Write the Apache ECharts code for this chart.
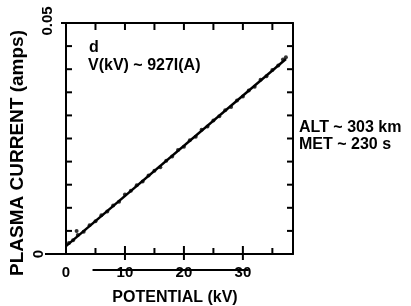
<!DOCTYPE html>
<html>
<head>
<meta charset="utf-8">
<script src="https://cdn.jsdelivr.net/npm/echarts@6/dist/echarts.min.js"></script>
<style>
  html, body { margin: 0; padding: 0; background: #fff; }
  #main { width: 411px; height: 306px; }
</style>
</head>
<body>
<div id="main"></div>
<script>
// measured points: potential (kV) vs plasma current (A)
var potential = [0.5, 1.2, 1.8, 2.0, 3.0, 4.0, 5.0, 6.0, 7.0, 8.0, 9.0, 10.0, 11.0, 12.0,
  13.0, 14.0, 15.0, 16.0, 17.0, 18.0, 19.0, 20.0, 21.0, 22.0, 23.0, 24.0, 25.0, 26.0,
  27.0, 28.0, 29.0, 30.0, 31.0, 32.0, 33.0, 34.0, 35.0, 36.0, 36.8, 37.3];
var current = [0.0024, 0.0030, 0.0050, 0.0041, 0.0048, 0.0062, 0.0071, 0.0084, 0.0092, 0.0105,
  0.0113, 0.0129, 0.0137, 0.0149, 0.0157, 0.0170, 0.0180, 0.0188, 0.0202, 0.0211,
  0.0225, 0.0232, 0.0246, 0.0254, 0.0269, 0.0276, 0.0289, 0.0298, 0.0311, 0.0318,
  0.0332, 0.0341, 0.0354, 0.0362, 0.0377, 0.0385, 0.0398, 0.0408, 0.0421, 0.0426];
// fitted line end points
var fitV = [0, 37.3];
var fitI = [0.0017, 0.0422];
var xTicks = [0, 10, 20, 30];
var yTicks = [0, 0.05];
var xMinor = [0, 5, 10, 15, 20, 25, 30, 35];
var yMinor = [0.005, 0.01, 0.015, 0.02, 0.025, 0.03, 0.035, 0.04, 0.045];

var font = 'Liberation Sans';
var chart = echarts.init(document.getElementById('main'));

var pts = potential.map(function (v, i) { return [v, current[i]]; });
var fit = fitV.map(function (v, i) { return [v, fitI[i]]; });

function frame(pos, isX) {
  return {
    type: 'value', position: pos,
    min: 0, max: isX ? 38.5 : 0.05,
    splitLine: { show: false },
    axisLine: { show: true, onZero: false, lineStyle: { color: '#000', width: 2 } },
    axisTick: { show: false },
    axisLabel: { show: false }
  };
}

chart.setOption({
  animation: false,
  backgroundColor: '#fff',
  grid: { left: 66, right: 118, top: 23, bottom: 52 },
  xAxis: [frame('bottom', true), frame('top', true)],
  yAxis: [frame('left', false), frame('right', false)],
  series: [
    {
      type: 'line', data: fit, xAxisIndex: 0, yAxisIndex: 0,
      symbol: 'none', lineStyle: { color: '#000', width: 2.5 }
    },
    {
      type: 'scatter', data: pts, xAxisIndex: 0, yAxisIndex: 0,
      symbol: 'circle', symbolSize: 4, itemStyle: { color: '#000' }
    }
  ]
});

// ticks, labels and titles placed through the axis scales
function px(v) { return chart.convertToPixel({ xAxisIndex: 0 }, v); }
function py(v) { return chart.convertToPixel({ yAxisIndex: 0 }, v); }
var boxL = px(0), boxR = px(38.5), boxT = py(0.05), boxB = py(0);
var txt = { fill: '#000', fontFamily: font, fontWeight: 'bold', fontSize: 15 };
function style(extra) { return Object.assign({}, txt, extra); }
var g = [];
function seg(x1, y1, x2, y2) {
  g.push({ type: 'line', z: 50, shape: { x1: x1, y1: y1, x2: x2, y2: y2 },
    style: { stroke: '#000', lineWidth: 2 } });
}

xMinor.forEach(function (v) {
  var x = px(v);
  if (xTicks.indexOf(v) > 0) seg(x, boxB + 6, x, boxB - 8);
  else seg(x, boxB, x, boxB - 6);
  seg(x, boxT, x, boxT + 7);
});
yMinor.forEach(function (v) {
  var y = py(v);
  seg(boxL, y, boxL + 6, y);
  seg(boxR, y, boxR - 6, y);
});
seg(boxL - 5, boxT, boxL, boxT);

xTicks.forEach(function (v) {
  g.push({ type: 'text', x: px(v), y: 273, z: 60,
    style: style({ text: String(v), align: 'center', verticalAlign: 'middle' }) });
});
// rule through the x tick labels
g.push({ type: 'line', z: 1, shape: { x1: px(4.5), y1: 270, x2: px(31), y2: 270 },
  style: { stroke: '#000', lineWidth: 2 } });
// y labels, rotated
g.push({ type: 'text', x: 48, y: py(yTicks[1]) - 2, rotation: Math.PI / 2,
  style: style({ text: '0.05', align: 'center', verticalAlign: 'middle' }) });
g.push({ type: 'text', x: 39, y: py(yTicks[0]), rotation: Math.PI / 2,
  style: style({ text: '0', align: 'center', verticalAlign: 'middle' }) });
seg(45, boxB, boxL, boxB);
// axis titles
g.push({ type: 'text', x: 18, y: 153, rotation: Math.PI / 2,
  style: style({ text: 'PLASMA CURRENT (amps)', align: 'center', verticalAlign: 'middle', fontSize: 19 }) });
g.push({ type: 'text', x: 175, y: 298,
  style: style({ text: 'POTENTIAL (kV)', align: 'center', verticalAlign: 'middle', fontSize: 16 }) });
// annotations
g.push({ type: 'text', left: 89, top: 40, style: style({ text: 'd', fontSize: 16 }) });
g.push({ type: 'text', left: 88, top: 58, style: style({ text: 'V(kV) ~ 927I(A)', fontSize: 16 }) });
g.push({ type: 'text', left: 299, top: 120, style: style({ text: 'ALT ~ 303 km', fontSize: 16 }) });
g.push({ type: 'text', left: 299, top: 137, style: style({ text: 'MET ~ 230 s', fontSize: 16 }) });

chart.setOption({ graphic: g });
</script>
</body>
</html>
